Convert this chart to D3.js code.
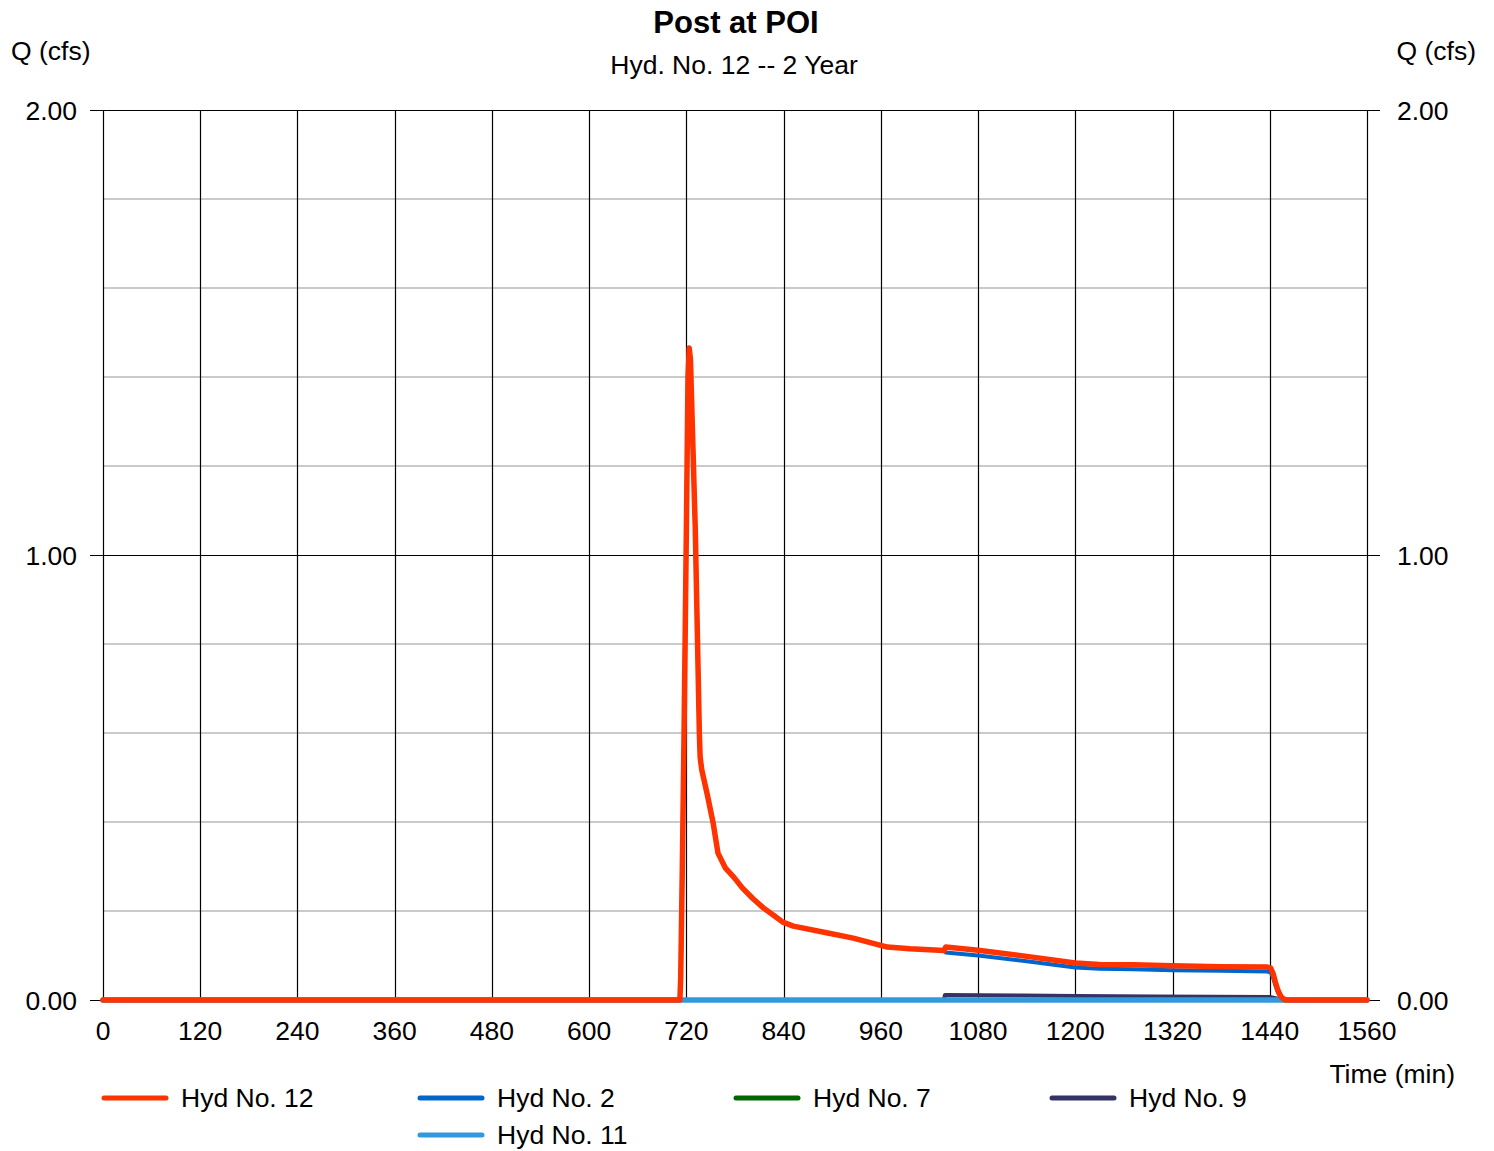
<!DOCTYPE html>
<html>
<head>
<meta charset="utf-8">
<script src="https://cdn.jsdelivr.net/npm/d3@7"></script>
<style>
  html, body { margin: 0; padding: 0; background: #fff; }
  svg { display: block; font-family: "Liberation Sans", Arial, Helvetica, sans-serif; }
</style>
</head>
<body>
<svg id="chart" width="1494" height="1151"></svg>
<script>
// ---------------- data ----------------
const chartTitle = "Post at POI";
const chartSubtitle = "Hyd. No. 12 -- 2 Year";
const yLabel = "Q (cfs)";
const xLabel = "Time (min)";
const xTicks = [0, 120, 240, 360, 480, 600, 720, 840, 960, 1080, 1200, 1320, 1440, 1560];
const yMajorTicks = [0, 1, 2];
const yMinorTicks = [0.2, 0.4, 0.6, 0.8, 1.2, 1.4, 1.6, 1.8];

// [time (min), Q (cfs)]
const hyd12 = [
  [0, 0], [712, 0], [713, 0.05], [715, 0.30], [717, 0.58], [720, 1.06], [722, 1.40],
  [723.5, 1.465], [725, 1.44], [731, 1.056], [736, 0.60], [737, 0.545], [739, 0.517],
  [746, 0.46], [753, 0.398], [759, 0.33], [768, 0.297], [779, 0.275], [789, 0.252],
  [802, 0.228], [815, 0.207], [828, 0.19], [839, 0.175], [852, 0.166], [893, 0.151],
  [926, 0.139], [968, 0.119], [996, 0.115], [1038, 0.111], [1040, 0.119], [1080, 0.112],
  [1140, 0.098], [1200, 0.083], [1230, 0.080], [1272, 0.079], [1320, 0.077], [1380, 0.075],
  [1437, 0.074], [1441, 0.072], [1444, 0.060], [1447, 0.040], [1450, 0.022], [1454, 0.007],
  [1459, 0], [1560, 0]
];
const hyd2 = [
  [0, 0], [712, 0], [713, 0.05], [715, 0.30], [717, 0.58], [720, 1.06], [722, 1.40],
  [723.5, 1.465], [725, 1.44], [731, 1.056], [736, 0.60], [737, 0.545], [739, 0.517],
  [746, 0.46], [753, 0.398], [759, 0.33], [768, 0.297], [779, 0.275], [789, 0.252],
  [802, 0.228], [815, 0.207], [828, 0.19], [839, 0.175], [852, 0.166], [893, 0.151],
  [926, 0.139], [968, 0.119], [996, 0.115], [1038, 0.111], [1040, 0.107], [1080, 0.100],
  [1140, 0.087], [1200, 0.073], [1230, 0.070], [1272, 0.069], [1320, 0.067], [1380, 0.066],
  [1437, 0.064], [1441, 0.062], [1444, 0.051], [1447, 0.033], [1450, 0.017], [1454, 0.004],
  [1459, 0], [1560, 0]
];
const hyd7 = [[0, 0], [1560, 0]];
const hyd9 = [
  [0, 0], [1038, 0], [1039, 0.011], [1135, 0.010], [1200, 0.009], [1300, 0.008],
  [1440, 0.007], [1450, 0.003], [1456, 0], [1560, 0]
];
const hyd11 = [[0, 0], [1560, 0]];

const seriesNames = ["Hyd No. 12", "Hyd No. 2", "Hyd No. 7", "Hyd No. 9", "Hyd No. 11"];
const seriesData = [hyd12, hyd2, hyd7, hyd9, hyd11];
const seriesColors = ["#FF3300", "#0066CC", "#006600", "#333366", "#3399DD"];
const seriesWidths = [5.5, 4, 4, 4, 5.5];
const drawOrder = [2, 1, 3, 4, 0]; // bottom -> top

// ---------------- layout ----------------
const svg = d3.select("#chart");
const plotL = 103, plotR = 1367, plotT = 110, plotB = 1000;
const x = d3.scaleLinear().domain([0, 1560]).range([plotL, plotR]);
const y = d3.scaleLinear().domain([0, 2]).range([plotB, plotT]);
const fs = 26.5;

// minor horizontal gridlines
svg.append("g").selectAll("line").data(yMinorTicks).join("line")
  .attr("x1", plotL).attr("x2", plotR)
  .attr("y1", d => y(d)).attr("y2", d => y(d))
  .attr("stroke", "#cacaca").attr("stroke-width", 2);

// vertical gridlines
svg.append("g").selectAll("line").data(xTicks).join("line")
  .attr("x1", d => Math.round(x(d)) + 0.5).attr("x2", d => Math.round(x(d)) + 0.5)
  .attr("y1", plotT).attr("y2", plotB)
  .attr("stroke", "#000").attr("stroke-width", 1.2);

// major horizontal lines incl. tick marks
svg.append("g").selectAll("line").data(yMajorTicks).join("line")
  .attr("x1", plotL - 13).attr("x2", plotR + 13)
  .attr("y1", d => Math.round(y(d)) + 0.5).attr("y2", d => Math.round(y(d)) + 0.5)
  .attr("stroke", "#000").attr("stroke-width", 1.2);

// y tick labels (left and right)
svg.append("g").selectAll("text").data(yMajorTicks).join("text")
  .attr("x", 77).attr("y", d => y(d) + 10)
  .attr("text-anchor", "end").attr("font-size", fs).attr("fill", "#000")
  .text(d => d3.format(".2f")(d));
svg.append("g").selectAll("text").data(yMajorTicks).join("text")
  .attr("x", 1397).attr("y", d => y(d) + 10)
  .attr("text-anchor", "start").attr("font-size", fs).attr("fill", "#000")
  .text(d => d3.format(".2f")(d));

// x tick labels
svg.append("g").selectAll("text").data(xTicks).join("text")
  .attr("x", d => x(d)).attr("y", 1040)
  .attr("text-anchor", "middle").attr("font-size", fs).attr("fill", "#000")
  .text(d => d);

// series
const lineGen = d3.line().x(d => x(d[0])).y(d => y(d[1]));
const gLines = svg.append("g");
drawOrder.forEach(i => {
  gLines.append("path")
    .datum(seriesData[i])
    .attr("d", lineGen)
    .attr("fill", "none")
    .attr("stroke", seriesColors[i])
    .attr("stroke-width", seriesWidths[i])
    .attr("stroke-linejoin", "round")
    .attr("stroke-linecap", "round");
});

// titles
svg.append("text").attr("x", 736).attr("y", 33).attr("text-anchor", "middle")
  .attr("font-size", 31).attr("font-weight", "bold").text(chartTitle);
svg.append("text").attr("x", 734).attr("y", 74).attr("text-anchor", "middle")
  .attr("font-size", fs).text(chartSubtitle);
svg.append("text").attr("x", 11).attr("y", 60).attr("font-size", fs).text(yLabel);
svg.append("text").attr("x", 1476).attr("y", 60).attr("text-anchor", "end")
  .attr("font-size", fs).text(yLabel);
svg.append("text").attr("x", 1455).attr("y", 1083).attr("text-anchor", "end")
  .attr("font-size", fs).text(xLabel);

// legend
const legend = svg.append("g");
seriesNames.forEach((name, i) => {
  const col = i < 4 ? i : i - 3;
  const row = i < 4 ? 0 : 1;
  const lx = 104 + col * 316;
  const ly = 1098 + row * 37;
  legend.append("line")
    .attr("x1", lx).attr("x2", lx + 62)
    .attr("y1", ly).attr("y2", ly)
    .attr("stroke", seriesColors[i]).attr("stroke-width", 5)
    .attr("stroke-linecap", "round");
  legend.append("text")
    .attr("x", lx + 77).attr("y", ly + 9)
    .attr("font-size", fs).text(name);
});
</script>
</body>
</html>
